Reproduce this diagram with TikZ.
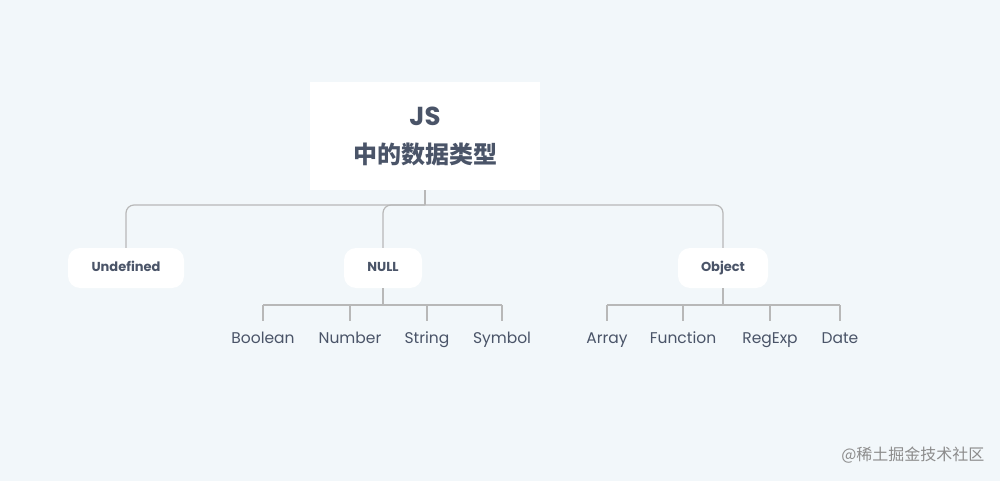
\documentclass[tikz,border=0pt]{standalone}
\usepackage{fontspec}
\setmainfont{Poppins}
\newfontfamily\cjk{Noto Sans CJK SC}
\begin{document}
\begin{tikzpicture}[x=1pt,y=-1pt,
  ln/.style={draw=black!28,line width=1.2pt},
  pill/.style={fill=white,rounded corners=12pt,minimum height=40pt,font=\bfseries\fontsize{13}{15}\selectfont,text=txt,text height=10pt,text depth=3pt},
  leaf/.style={font=\fontsize{15.5}{18}\selectfont,text=txt,inner sep=1pt,text height=12pt,text depth=4pt}]
\definecolor{bg}{HTML}{F2F7FA}
\definecolor{txt}{HTML}{4A5468}
\fill[bg] (0,0) rectangle (1000,481);
\useasboundingbox (0,0) rectangle (1000,481);
\node[fill=white,minimum width=230pt,minimum height=108pt,align=center,text=txt,font=\bfseries\fontsize{26}{38}\selectfont] (root) at (425,136) {JS\\{\cjk\fontsize{24}{38}\selectfont 中的数据类型}};
\node[pill,minimum width=116pt] (u) at (126,268) {Undefined};
\node[pill,minimum width=78pt] (n) at (383,268) {NULL};
\node[pill,minimum width=90pt] (o) at (723,268) {Object};
\coordinate (t) at (425,205);
\draw[ln] (root.south) -- (t);
\draw[ln,rounded corners=8pt] (t) -- (126,205) -- (u.north);
\draw[ln,rounded corners=8pt] (t) -- (383,205) -- (n.north);
\draw[ln,rounded corners=8pt] (t) -- (723,205) -- (o.north);
\foreach \nm/\x/\tx in {b/263/Boolean,nu/350/Number,s/427/String,sy/502/Symbol}{
  \node[leaf] (\nm) at (\x,339) {\tx};
  \draw[ln] (\x,305) -- (\x,321);}
\draw[ln] (n.south) -- (383,305);
\draw[ln] (263,305) -- (502,305);
\foreach \nm/\x/\tx in {a/607/Array,f/683/Function,r/770/RegExp,d/840/Date}{
  \node[leaf] (\nm) at (\x,339) {\tx};
  \draw[ln] (\x,305) -- (\x,321);}
\draw[ln] (o.south) -- (723,305);
\draw[ln] (607,305) -- (840,305);
\node[anchor=east,text=black!45,font=\cjk\fontsize{16}{18}\selectfont] (wm) at (988,455) {@稀土掘金技术社区};
\end{tikzpicture}
\end{document}
